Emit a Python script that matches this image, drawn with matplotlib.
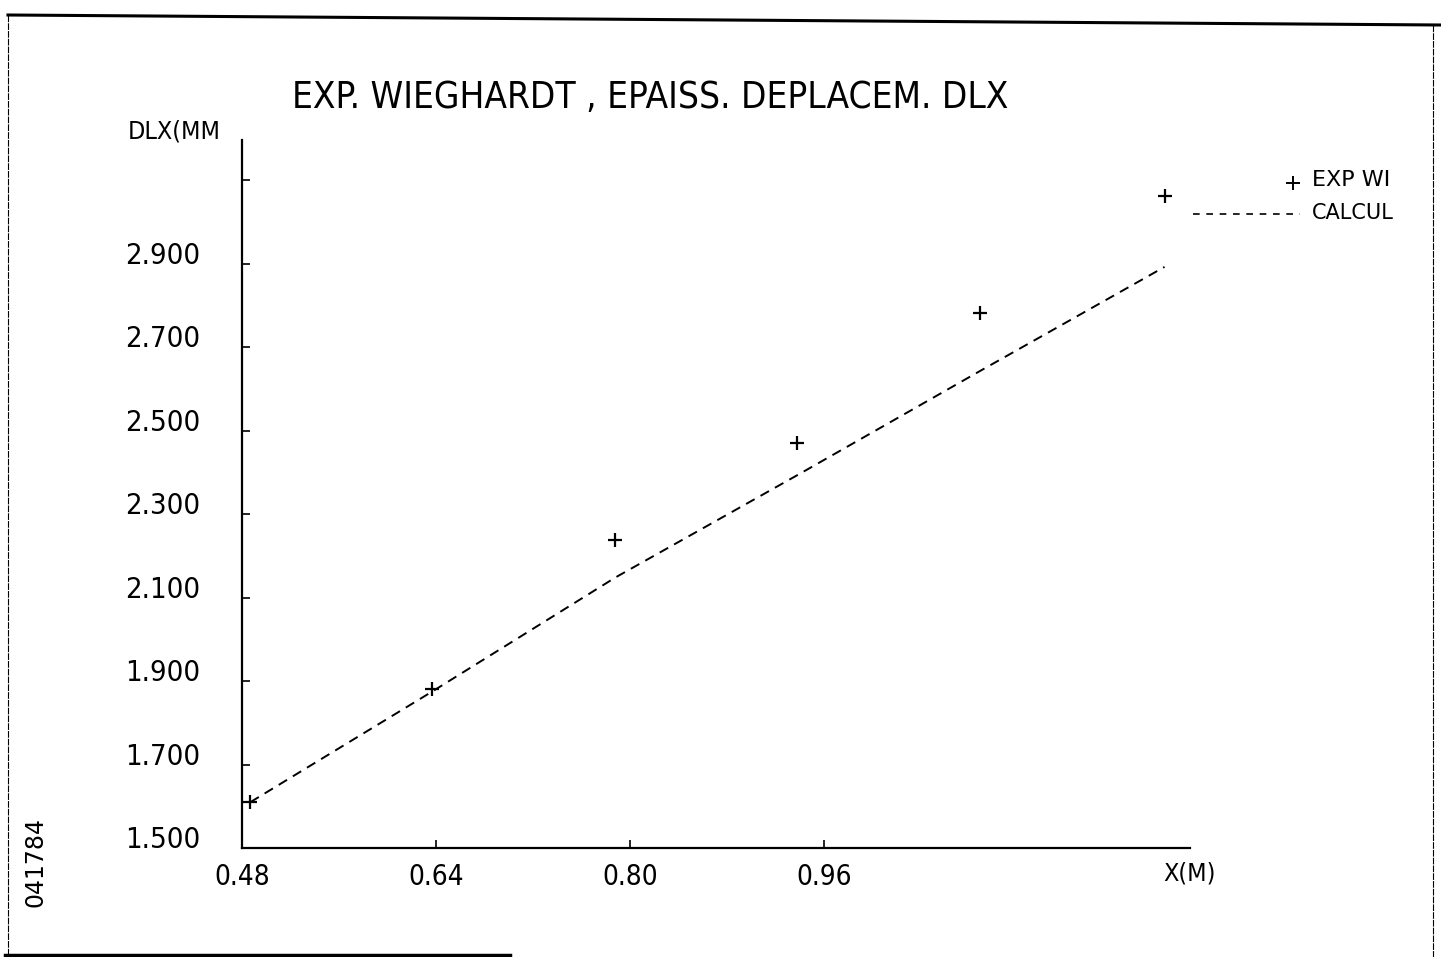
import matplotlib
matplotlib.use('Agg')
import matplotlib.pyplot as plt
from matplotlib.lines import Line2D

# data
x_exp = [0.487, 0.637, 0.788, 0.938, 1.089, 1.241]
dlx_exp = [1.610, 1.882, 2.239, 2.470, 2.782, 3.063]
x_calc = [0.487, 0.637, 0.788, 0.938, 1.089, 1.241]
dlx_calc = [1.610, 1.875, 2.148, 2.393, 2.643, 2.892]

y_ticks = [1.5, 1.7, 1.9, 2.1, 2.3, 2.5, 2.7, 2.9, 3.1]
y_labels = ['1.500', '1.700', '1.900', '2.100', '2.300', '2.500', '2.700', '2.900', '']
x_ticks = [0.48, 0.64, 0.80, 0.96]
x_labels = ['0.48', '0.64', '0.80', '0.96']

FAM = ['Liberation Sans Narrow', 'DejaVu Sans']
plt.rcParams['font.family'] = FAM

W, H = 1441, 957
fig = plt.figure(figsize=(W/100, H/100), dpi=100)
ax = fig.add_axes([242/W, 1-848/H, (1190-242)/W, (848-140)/H])

ax.plot(x_calc, dlx_calc, color='k', lw=1.4, ls=(0, (5, 3.5)))
ax.plot(x_exp, dlx_exp, ls='none', marker='+', ms=10, mew=1.6, color='k')

ax.set_xlim(0.48, 1.262)
ax.set_ylim(1.5, 3.196)
for s in ['top', 'right']:
    ax.spines[s].set_visible(False)
for s in ['left', 'bottom']:
    ax.spines[s].set_linewidth(1.6)

ax.set_yticks(y_ticks)
ax.set_yticklabels(y_labels, fontsize=21, stretch='condensed')
for lab in ax.get_yticklabels():
    lab.set_va('baseline')
ax.tick_params(axis='y', direction='in', length=6, width=1.2, pad=30)
ax.set_xticks(x_ticks)
ax.set_xticklabels(x_labels, fontsize=20, stretch='condensed')
ax.tick_params(axis='x', direction='in', length=6, width=1.2, pad=11)

fig.text(292/W, 1-97/H, 'EXP. WIEGHARDT , EPAISS. DEPLACEM. DLX', fontsize=26.5,
         va='center', ha='left', stretch='condensed')
fig.text(128/W, 1-132/H, 'DLX(MM', fontsize=18, va='center', ha='left', stretch='condensed')
fig.text(1163/W, 1-873/H, 'X(M)', fontsize=18, va='center', ha='left', stretch='condensed')

# legend
fig.add_artist(Line2D([1293/W], [1-183/H], marker='+', ms=10, mew=1.4, color='k', ls='none'))
fig.text(1312/W, 1-180/H, 'EXP WI', fontsize=16, va='center', ha='left')
fig.add_artist(Line2D([1193/W, 1300/W], [1-214/H, 1-214/H], color='k', lw=1.2, ls=(0, (4, 4))))
fig.text(1312/W, 1-213/H, 'CALCUL', fontsize=15, va='center', ha='left')

fig.text(35/W, 1-862/H, '041784', fontsize=17, rotation=90, va='center', ha='center')

# scan frame
fig.add_artist(Line2D([8/W, 1441/W], [1-15/H, 1-25/H], color='k', lw=2.2))
fig.add_artist(Line2D([8/W, 8/W], [1-15/H, 1-955/H], color='k', lw=0.8, ls=(0, (6, 1))))
fig.add_artist(Line2D([1433/W, 1433/W], [1-25/H, 0], color='k', lw=0.8, ls=(0, (6, 1))))
fig.add_artist(Line2D([5/W, 510/W], [1-955/H, 1-955/H], color='k', lw=2.5))

fig.savefig('out.png', dpi=100)
